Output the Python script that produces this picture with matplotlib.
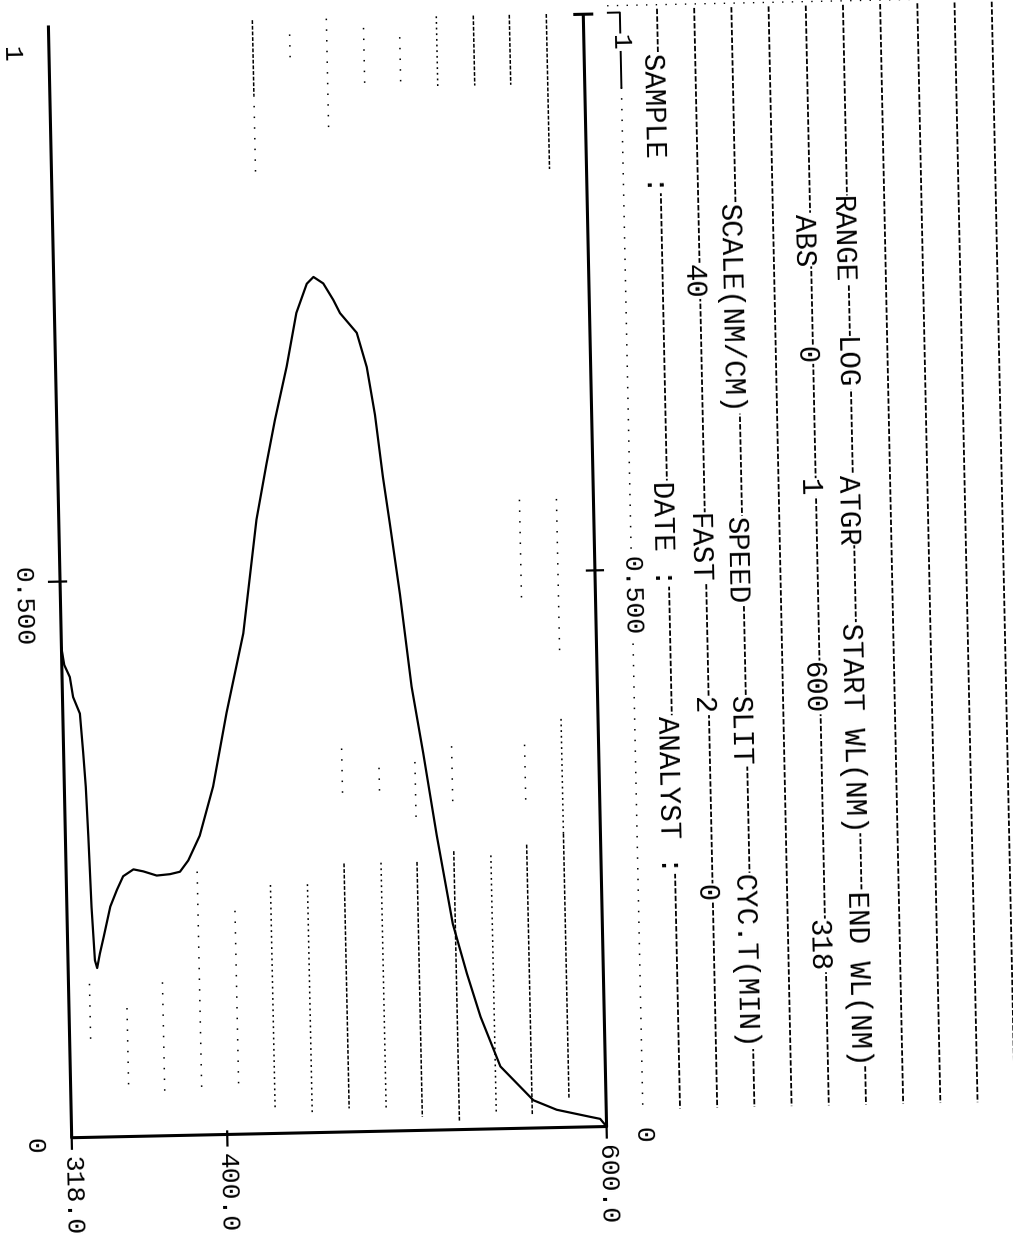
import matplotlib.pyplot as plt
import matplotlib.transforms as mtransforms

plt.rcParams['font.family'] = ['Liberation Mono', 'DejaVu Sans Mono']

# absorbance spectrum, 600 -> 318 nm scan
wavelength = [318.0, 319.3, 322.1, 323.6, 327.0, 328.3, 329.3, 330.1, 331.0, 332.2,
              333.3, 334.9, 337.1, 340.9, 344.6, 348.0, 353.5, 358.7, 365.7, 372.7,
              378.0, 382.5, 388.8, 396.4, 404.3, 414.0, 422.2, 428.1, 433.0, 439.8,
              445.5, 451.3, 454.9, 460.0, 465.1, 468.5, 477.1, 482.0, 485.8, 489.3,
              492.5, 497.0, 502.1, 507.5, 513.7, 521.2, 528.1, 534.8, 544.7, 561.7,
              573.9, 591.5, 596.7, 600.0]
absorbance = [0.440, 0.425, 0.414, 0.396, 0.381, 0.346, 0.315, 0.270, 0.207, 0.159,
              0.152, 0.165, 0.180, 0.207, 0.222, 0.234, 0.240, 0.238, 0.234, 0.235,
              0.237, 0.247, 0.269, 0.313, 0.379, 0.450, 0.552, 0.602, 0.641, 0.689,
              0.737, 0.763, 0.769, 0.763, 0.748, 0.736, 0.718, 0.687, 0.644, 0.588,
              0.545, 0.482, 0.399, 0.339, 0.265, 0.185, 0.140, 0.101, 0.056, 0.025,
              0.016, 0.009, 0.007, 0.000]

wl_ticks = [318, 400, 600]
wl_labels = ['318.0', '400.0', '600.0']
abs_ticks = [1.0, 0.5, 0.0]
abs_labels = ['1', '0.500', '0']

# instrument header block
info_names = ['SAMPLE :', 'DATE :', 'ANALYST :']
param_names = ['SCALE(NM/CM)', 'SPEED', 'SLIT', 'CYC.T(MIN)']
param_values = ['40', 'FAST', '2', '0']
range_names = ['RANGE', 'LOG', 'ATGR', 'START WL(NM)', 'END WL(NM)']
range_values = ['ABS', '0', '1', '600', '318']

W, H = 1013, 1245
fig = plt.figure(figsize=(W / 100, H / 100), dpi=100)
# the printout sits slightly skewed on the sheet
tilt = mtransforms.Affine2D().rotate_deg_around(W / 2, H / 2, 1.2)
ROT = -90 + 1.2

page = fig.add_axes([0, 0, 1, 1])
page.set_xlim(0, W)
page.set_ylim(H, 0)
page.axis('off')
P = page.transData + tilt

ax = fig.add_axes([61 / W, 1 - 1128.5 / H, 535 / W, 1112.5 / H])
ax.set_xlim(318, 600)
ax.set_ylim(0, 1)
ax.axis('off')
D = ax.transData + tilt
nm_px = 282 / 535
abs_px = 1 / 1112.5

dash = {'dense': (0, (2.5, 1.2)), 'medium': (0, (1.2, 2.5)), 'sparse': (0, (1, 6))}

# faint ruling inside the plot area
ruling = [
    (82, 975, 1030, 'sparse'), (119, 1000, 1085, 'sparse'), (155, 975, 1085, 'sparse'),
    (192, 865, 1085, 'sparse'), (229, 905, 1080, 'sparse'), (265, 880, 1105, 'medium'),
    (302, 880, 1110, 'medium'), (339, 860, 1105, 'dense'), (376, 860, 1105, 'medium'),
    (412, 860, 1115, 'dense'), (449, 850, 1120, 'dense'), (486, 855, 1115, 'medium'),
    (522, 845, 1115, 'dense'), (559, 835, 1100, 'dense'),
    (339, 745, 795, 'sparse'), (376, 765, 795, 'sparse'), (412, 760, 815, 'sparse'),
    (449, 745, 800, 'sparse'), (522, 500, 600, 'sparse'), (559, 500, 660, 'sparse'),
    (522, 745, 800, 'sparse'), (559, 720, 835, 'medium'),
    (265, 15, 90, 'dense'), (265, 90, 175, 'sparse'), (302, 30, 60, 'sparse'),
    (339, 15, 130, 'sparse'), (376, 25, 85, 'sparse'), (412, 35, 85, 'sparse'),
    (449, 15, 85, 'medium'), (486, 15, 85, 'dense'), (522, 15, 85, 'dense'),
    (559, 15, 170, 'dense'),
]
for x, y0, y1, st in ruling:
    page.plot([x, x], [y0, y1], transform=P, color='k', lw=1.1,
              linestyle=dash[st], clip_on=False)

# table rules to the right of the plot
for k in range(11):
    x = 632.6 + 37.2 * k
    if k == 0:
        page.plot([x - 12, x, x], [15, 15, 90], transform=P, color='k', lw=1.4, clip_on=False)
        page.plot([x, x], [90, 1110], transform=P, color='k', lw=1.1,
                  linestyle=dash['sparse'], clip_on=False)
    else:
        page.plot([x, x], [12, 1112], transform=P, color='k', lw=1.3,
                  linestyle=(0, (3, 1.2)), clip_on=False)
page.plot([620, 1013], [8, 8], transform=P, color='k', lw=1.0,
          linestyle=dash['sparse'], clip_on=False)

# axes frame (open at the top)
frame = dict(transform=D, color='k', lw=2.2, clip_on=False, solid_capstyle='butt')
ax.plot([318, 318, 600, 600], [1, 0, 0, 1], **frame)
ax.plot([600 - 10 * nm_px, 600 + 10 * nm_px], [1, 1], **frame)
ax.plot([318 - 11 * nm_px, 318 + 6 * nm_px], [0.5, 0.5], transform=D, color='k', lw=1.6, clip_on=False)
ax.plot([600 - 8 * nm_px, 600 + 8 * nm_px], [0.5, 0.5], transform=D, color='k', lw=1.6, clip_on=False)
for w in wl_ticks:
    ax.plot([w, w], [-11 * abs_px, 3 * abs_px], transform=D, color='k', lw=1.6, clip_on=False)

ax.plot(wavelength, absorbance, transform=D, color='k', lw=1.6, clip_on=False)

txt = dict(rotation=ROT, color='k', rotation_mode='default')
for w, lab in zip(wl_ticks, wl_labels):
    ax.annotate(lab, xy=(w, 0), xycoords=D, xytext=(0, -18), textcoords='offset pixels',
                ha='center', va='top', fontsize=19, **txt)
for a, lab, drop in zip(abs_ticks, abs_labels, [28, 25, 8]):
    for w, side in [(318, -38), (600, 36)]:
        ax.annotate(lab, xy=(w, a), xycoords=D, xytext=(side, -drop), textcoords='offset pixels',
                    ha='center', va='center', fontsize=19,
                    bbox=dict(facecolor='white', edgecolor='none', pad=0.5), **txt)

cell = dict(transform=P, ha='center', va='center', fontsize=21,
            bbox=dict(facecolor='white', edgecolor='none', pad=0.5), **txt)
for s, y in zip(info_names, [126, 537, 798]):
    page.text(664, y, s, **cell)
for s, y in zip(param_values, [285, 552, 710, 897]):
    page.text(700, y, s, **cell)
for s, y in zip(param_names, [313, 565, 736, 966]):
    page.text(737, y, s, **cell)
for s, y in zip(range_values, [246, 361, 494, 694, 952]):
    page.text(811, y, s, **cell)
for s, y in zip(range_names, [247, 370, 517, 735, 985]):
    page.text(850, y, s, **cell)

fig.savefig('out.png', dpi=100)
